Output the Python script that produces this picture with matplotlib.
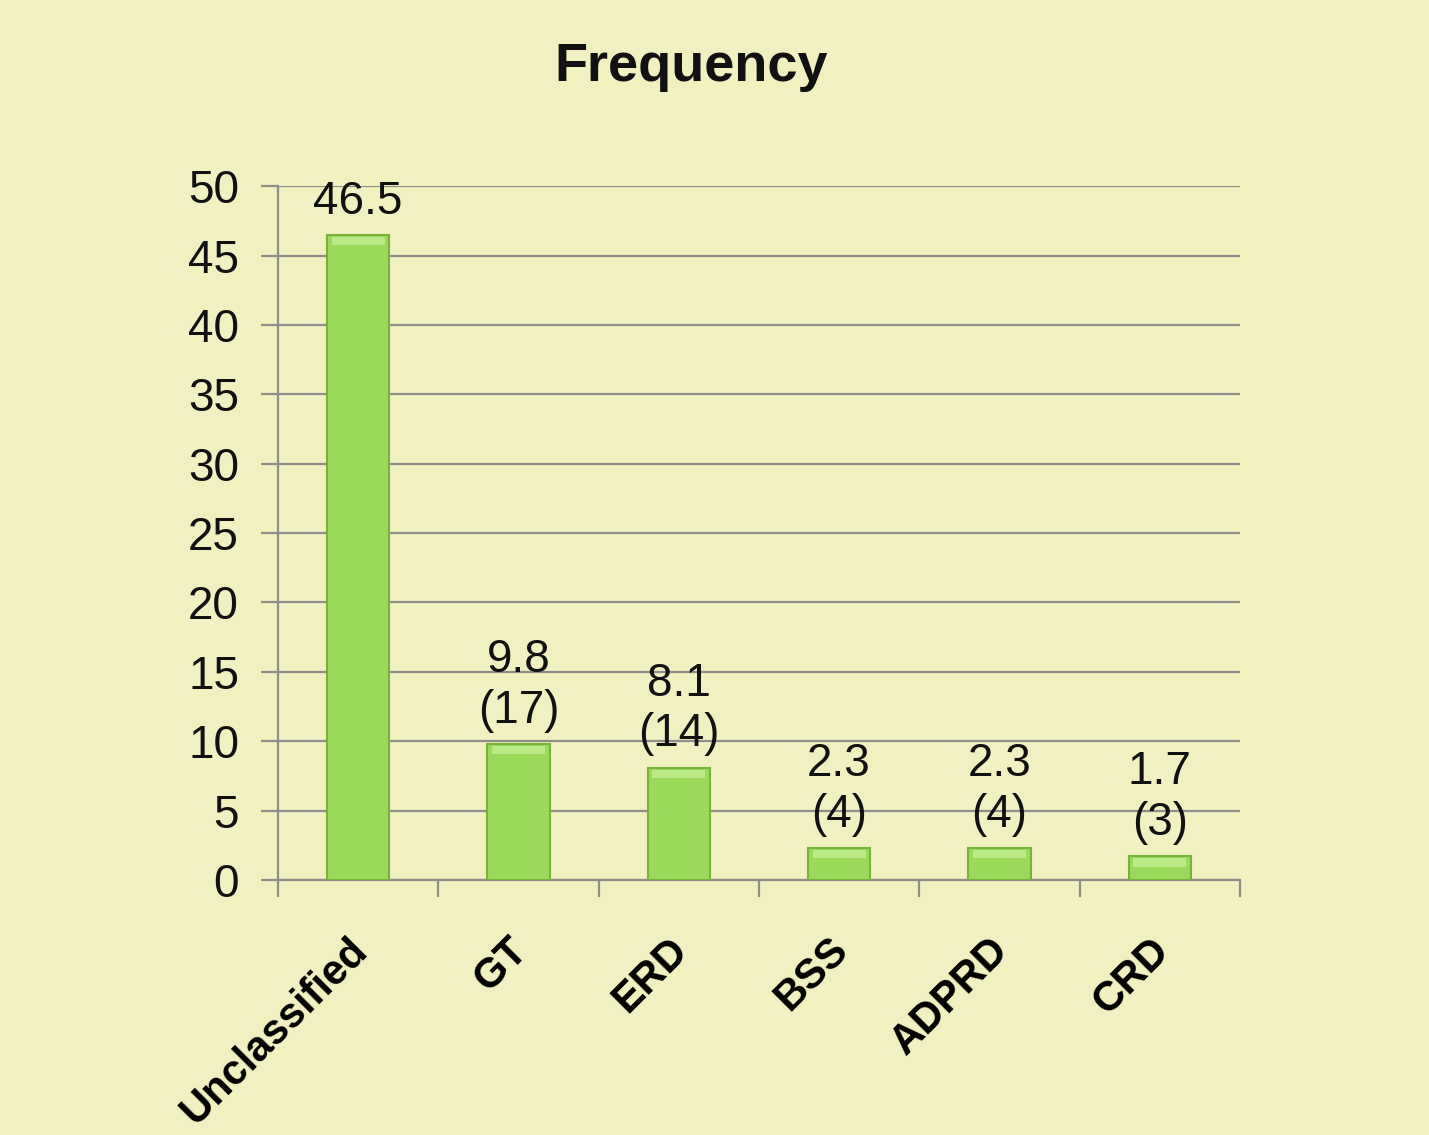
import numpy as np
import matplotlib.pyplot as plt
import matplotlib.transforms as mtransforms

categories = ["Unclassified", "GT", "ERD", "BSS", "ADPRD", "CRD"]
percent = [46.5, 9.8, 8.1, 2.3, 2.3, 1.7]
counts = [None, 17, 14, 4, 4, 3]

plt.rcParams['font.family'] = ['Liberation Sans', 'DejaVu Sans']

bg = "#f1f0c0"
grid_col = "#8e8e8a"

fig = plt.figure(figsize=(14.29, 11.35), dpi=100, facecolor=bg)
ax = fig.add_axes([0.1945, 0.2247, 0.8677 - 0.1945, 0.836 - 0.2247], facecolor=bg)

x = np.arange(len(categories))
bars = ax.bar(x, percent, width=0.39, color="#9ad95a", edgecolor="#78b23a",
              linewidth=1.5, zorder=3)
# lighter strip along the top of each bar
ax.bar(x, [0.6] * len(x), bottom=[p - 0.75 for p in percent], width=0.33,
       color="#b9ea86", linewidth=0, zorder=4)

for xi, p, c in zip(x, percent, counts):
    txt = f"{p}" if c is None else f"{p}\n({c})"
    ax.annotate(txt, (xi, p), xytext=(0, 8), textcoords="offset points",
                ha="center", va="bottom", fontsize=33, linespacing=1.2,
                color="#111111")

ax.set_xlim(-0.5, len(categories) - 0.5)
ax.set_ylim(0, 50)
ax.set_yticks(range(0, 51, 5))
ax.yaxis.grid(True, color=grid_col, linewidth=1.6, zorder=0)
ax.tick_params(axis="y", labelsize=33, length=12, width=1.6, color=grid_col,
               pad=16, labelcolor="#111111")

ax.set_xticks(x)
ax.set_xticklabels(categories, rotation=45, ha="right", va="top",
                   rotation_mode="anchor", fontsize=30, fontweight="bold")
ax.tick_params(axis="x", which="major", length=0, pad=36)
shift = mtransforms.ScaledTranslation(-8 / 72, 0, fig.dpi_scale_trans)
for lab in ax.get_xticklabels():
    lab.set_transform(lab.get_transform() + shift)
ax.set_xticks(np.arange(-0.5, len(categories)), minor=True)
ax.tick_params(axis="x", which="minor", length=12, width=1.6, color=grid_col)

for s in ["top", "right"]:
    ax.spines[s].set_visible(False)
for s in ["left", "bottom"]:
    ax.spines[s].set_color(grid_col)
    ax.spines[s].set_linewidth(1.6)

fig.text(0.484, 0.941, "Frequency", ha="center", va="center",
         fontsize=39, fontweight="bold", color="#111111")

fig.savefig("out.png", dpi=100, facecolor=bg)
